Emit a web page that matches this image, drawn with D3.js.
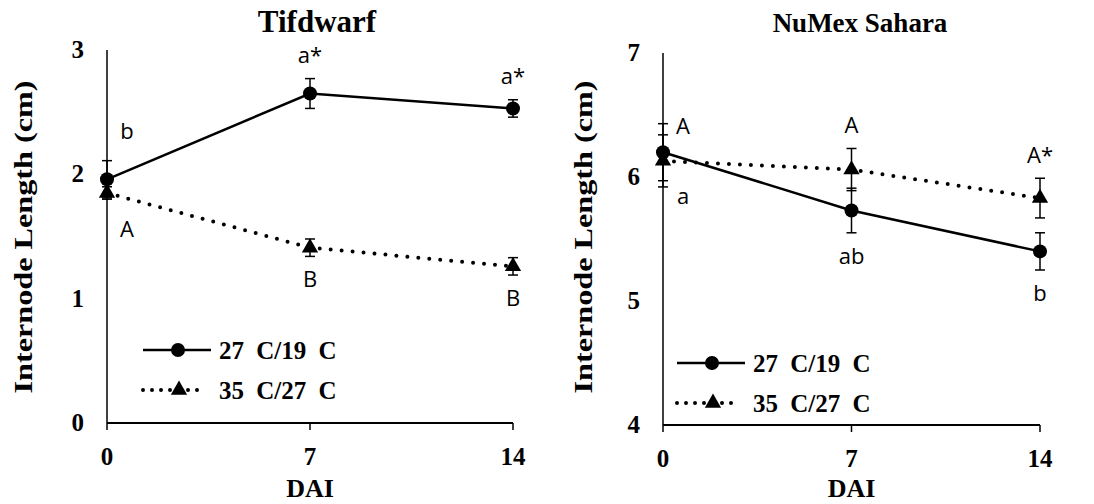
<!DOCTYPE html>
<html>
<head>
<meta charset="utf-8">
<script src="https://cdn.jsdelivr.net/npm/d3@7"></script>
<style>
  body { margin: 0; background: #fff; }
  svg { display: block; }
  text.serif { font-family: "Liberation Serif", "DejaVu Serif", serif; font-weight: bold; }
  text.letter { font-family: "Open Sans", "Noto Sans", sans-serif; font-size: 22px; }
</style>
</head>
<body>
<svg id="chart" width="1094" height="504"></svg>
<script>
// Données
const days = [0, 7, 14];
const seriesNames = ["27 C/19 C", "35 C/27 C"];

const tifMean27 = [1.96, 2.65, 2.53];
const tifErr27 = [0.15, 0.12, 0.07];
const tifMean35 = [1.85, 1.41, 1.26];
const tifErr35 = [0.05, 0.07, 0.07];
const tifLetters27 = ["b", "a*", "a*"];
const tifLetters35 = ["A", "B", "B"];
const tifTicks = [0, 1, 2, 3];

const sahMean27 = [6.20, 5.73, 5.40];
const sahErr27 = [0.23, 0.18, 0.15];
const sahMean35 = [6.13, 6.06, 5.83];
const sahErr35 = [0.21, 0.17, 0.16];
const sahLetters27 = ["a", "ab", "b"];
const sahLetters35 = ["A", "A", "A*"];
const sahTicks = [4, 5, 6, 7];

const svg = d3.select("#chart");

function drawPanel(cfg) {
    let g = svg.append("g");

    let x = d3.scaleLinear().domain([0, 14]).range([cfg.left, cfg.right]);
    let y = d3.scaleLinear().domain(cfg.yDomain).range([cfg.bottom, cfg.top]);

    // axes
    g.append("line")
        .attr("x1", x(0)).attr("x2", x(0))
        .attr("y1", y(cfg.yDomain[0])).attr("y2", y(cfg.yDomain[1]))
        .attr("stroke", "#000").attr("stroke-width", 1.5);
    g.append("line")
        .attr("x1", x(0)).attr("x2", x(14))
        .attr("y1", y(cfg.yDomain[0])).attr("y2", y(cfg.yDomain[0]))
        .attr("stroke", "#000").attr("stroke-width", 2);

    g.selectAll(".xtick").data(days).enter().append("line")
        .attr("x1", d => x(d)).attr("x2", d => x(d))
        .attr("y1", y(cfg.yDomain[0])).attr("y2", y(cfg.yDomain[0]) + 7)
        .attr("stroke", "#000").attr("stroke-width", 1.5);

    g.selectAll(".xlab").data(days).enter().append("text")
        .attr("class", "serif")
        .style("font-size", "25px")
        .attr("x", d => x(d)).attr("y", y(cfg.yDomain[0]) + 42)
        .attr("text-anchor", "middle")
        .text(d => d);

    g.selectAll(".ylab").data(cfg.ticks).enter().append("text")
        .attr("class", "serif")
        .style("font-size", "25px")
        .attr("x", x(0) - 23).attr("y", d => y(d) + 8)
        .attr("text-anchor", "end")
        .text(d => d);

    // titres
    g.append("text").attr("class", "serif")
        .attr("x", cfg.titleX).attr("y", 32)
        .attr("text-anchor", "middle")
        .style("font-size", cfg.titleSize + "px")
        .text(cfg.title);

    g.append("text").attr("class", "serif")
        .attr("x", (x(0) + x(14)) / 2).attr("y", 497)
        .attr("text-anchor", "middle")
        .style("font-size", "26px")
        .text("DAI");

    g.append("text").attr("class", "serif")
        .attr("transform", `translate(${cfg.yLabelX},237) rotate(-90)`)
        .attr("text-anchor", "middle")
        .attr("dy", "0.35em")
        .attr("textLength", 313)
        .attr("lengthAdjust", "spacingAndGlyphs")
        .style("font-size", "26px")
        .text("Internode Length (cm)");

    let series = [
        { mean: cfg.mean27, err: cfg.err27, letters: cfg.letters27, dotted: false, marker: "circle" },
        { mean: cfg.mean35, err: cfg.err35, letters: cfg.letters35, dotted: true, marker: "triangle" }
    ];

    let line = d3.line().x(d => x(d.day)).y(d => y(d.v));

    // barres d'erreur
    series.forEach(s => {
        let pts = days.map((d, i) => ({ day: d, v: s.mean[i], e: s.err[i] }));
        let eb = g.append("g");
        eb.selectAll("line.v").data(pts).enter().append("line")
            .attr("x1", d => x(d.day)).attr("x2", d => x(d.day))
            .attr("y1", d => y(d.v - d.e)).attr("y2", d => y(d.v + d.e))
            .attr("stroke", "#000").attr("stroke-width", 1.5);
        [-1, 1].forEach(sign => {
            eb.selectAll("line.c" + sign).data(pts).enter().append("line")
                .attr("x1", d => x(d.day) - 5).attr("x2", d => x(d.day) + 5)
                .attr("y1", d => y(d.v + sign * d.e)).attr("y2", d => y(d.v + sign * d.e))
                .attr("stroke", "#000").attr("stroke-width", 1.5);
        });
    });

    // lignes et marqueurs
    series.forEach(s => {
        let pts = days.map((d, i) => ({ day: d, v: s.mean[i], e: s.err[i] }));
        let p = g.append("path").datum(pts)
            .attr("fill", "none").attr("stroke", "#000")
            .attr("d", line);
        if (s.dotted) {
            p.attr("stroke-width", 4).attr("stroke-linecap", "round").attr("stroke-dasharray", "0,11");
        } else {
            p.attr("stroke-width", 2.5);
        }
        if (s.marker === "circle") {
            g.selectAll(null).data(pts).enter().append("circle")
                .attr("cx", d => x(d.day)).attr("cy", d => y(d.v)).attr("r", 7);
        } else {
            g.selectAll(null).data(pts).enter().append("path")
                .attr("d", d3.symbol(d3.symbolTriangle, 115))
                .attr("transform", d => `translate(${x(d.day)},${y(d.v)})`);
        }
    });

    // lettres de signification
    series.forEach((s, si) => {
        days.forEach((d, i) => {
            let above = cfg.above[si];
            let gap = i === 0 ? cfg.firstGap[si] : 23;
            let yy = above ? y(s.mean[i] + s.err[i]) - gap : y(s.mean[i] - s.err[i]) + gap;
            g.append("text").attr("class", "letter")
                .attr("x", x(d) + (i === 0 ? 20 : 0))
                .attr("y", yy).attr("dy", "0.35em")
                .attr("text-anchor", "middle")
                .text(s.letters[i]);
        });
    });

    // légende
    let lg = g.append("g");
    [0, 1].forEach(k => {
        let ly = cfg.legendY + k * 40;
        let l = lg.append("line")
            .attr("x1", cfg.legendX).attr("x2", cfg.legendX + (k === 0 ? 68 : 62))
            .attr("y1", ly).attr("y2", ly).attr("stroke", "#000");
        if (k === 0) {
            l.attr("stroke-width", 2.5);
            lg.append("circle").attr("cx", cfg.legendX + 35).attr("cy", ly).attr("r", 7);
        } else {
            l.attr("stroke-width", 4).attr("stroke-linecap", "round").attr("stroke-dasharray", "0,9");
            lg.append("path").attr("d", d3.symbol(d3.symbolTriangle, 115))
                .attr("transform", `translate(${cfg.legendX + 36},${ly})`);
        }
        lg.append("text").attr("class", "serif")
            .attr("x", cfg.legendX + 76).attr("y", ly).attr("dy", "0.35em")
            .style("font-size", "25px").style("word-spacing", "6px")
            .text(seriesNames[k]);
    });
}

drawPanel({
    title: "Tifdwarf", titleX: 317, titleSize: 31,
    left: 107, right: 513, top: 50, bottom: 423, yDomain: [0, 3], ticks: tifTicks,
    mean27: tifMean27, err27: tifErr27, mean35: tifMean35, err35: tifErr35,
    letters27: tifLetters27, letters35: tifLetters35, above: [true, false], firstGap: [29, 30],
    yLabelX: 23, legendX: 143, legendY: 350
});

drawPanel({
    title: "NuMex Sahara", titleX: 860, titleSize: 27,
    left: 663, right: 1040, top: 53, bottom: 425, yDomain: [4, 7], ticks: sahTicks,
    mean27: sahMean27, err27: sahErr27, mean35: sahMean35, err35: sahErr35,
    letters27: sahLetters27, letters35: sahLetters35, above: [false, true], firstGap: [16, 9],
    yLabelX: 583, legendX: 677, legendY: 363
});
</script>
</body>
</html>
